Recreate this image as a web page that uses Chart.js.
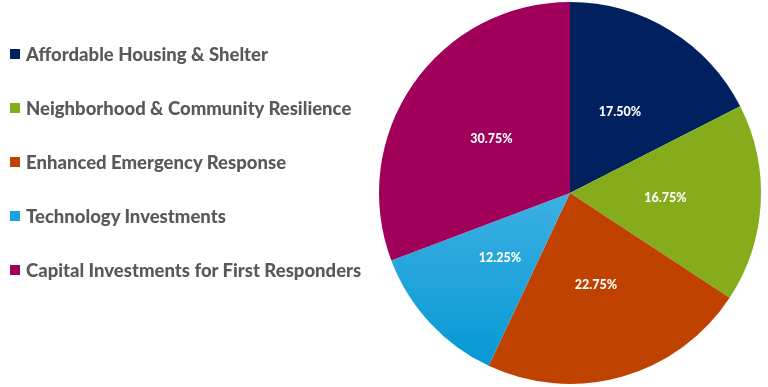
<!DOCTYPE html>
<html>
<head>
<meta charset="utf-8">
<script src="https://cdn.jsdelivr.net/npm/chart.js@4"></script>
<style>
  html, body { margin: 0; padding: 0; background: #ffffff; }
  #wrap { position: relative; width: 768px; height: 387px; }
  #pie { position: absolute; left: 0; top: 0; }
  #legend { position: absolute; left: 10px; top: 0; font-family: Lato, sans-serif; font-weight: 900; font-size: 18.5px; color: #595959; }
  .item { position: absolute; white-space: nowrap; display: flex; align-items: center; }
  .box { width: 10px; height: 10px; margin-right: 6px; }
</style>
</head>
<body>
<div id="wrap">
  <canvas id="pie" width="768" height="387"></canvas>
  <div id="legend"></div>
</div>
<script>
// Budget allocation pie

const categories = [
  'Affordable Housing & Shelter',
  'Neighborhood & Community Resilience',
  'Enhanced Emergency Response',
  'Technology Investments',
  'Capital Investments for First Responders'
];
const shares = [17.50, 16.75, 22.75, 12.25, 30.75];
const colors = ['#002060', '#84AC1B', '#C04200', '#1AA3DE', '#A0005A'];

// Build legend on the left
const legendEl = document.getElementById('legend');
categories.forEach((name, i) => {
  const div = document.createElement('div');
  div.className = 'item';
  div.style.top = (43 + i * 54) + 'px';
  div.innerHTML = `<span class="box" style="background:${colors[i]}"></span><span>${name}</span>`;
  legendEl.appendChild(div);
});

// Blue slice has a soft vertical gradient
function sliceColor(context) {
  const i = context.dataIndex;
  if (i !== 3) return colors[i];
  const area = context.chart.chartArea;
  if (!area) return colors[i];
  const g = context.chart.ctx.createLinearGradient(0, area.top + area.height / 2, 0, area.bottom);
  g.addColorStop(0, '#3DB0E3');
  g.addColorStop(1, '#0096D2');
  return g;
}

// Percentage labels inside the slices
const sliceLabels = {
  id: 'sliceLabels',
  afterDatasetsDraw(chart) {
    const ctx = chart.ctx;
    const meta = chart.getDatasetMeta(0);
    ctx.save();
    ctx.fillStyle = '#ffffff';
    ctx.font = '900 12.5px Lato, sans-serif';
    ctx.textAlign = 'center';
    ctx.textBaseline = 'middle';
    meta.data.forEach((arc, i) => {
      const p = arc.tooltipPosition();
      ctx.fillText(shares[i].toFixed(2) + '%', p.x, p.y);
    });
    ctx.restore();
  }
};

new Chart(document.getElementById('pie'), {
  type: 'pie',
  data: {
    labels: categories,
    datasets: [{
      data: shares,
      backgroundColor: sliceColor,
      borderWidth: 0
    }]
  },
  options: {
    responsive: false,
    animation: false,
    layout: { padding: { left: 379, right: 7, top: 2, bottom: 3 } },
    plugins: {
      legend: { display: false },
      tooltip: { enabled: false }
    }
  },
  plugins: [sliceLabels]
});
</script>
</body>
</html>
